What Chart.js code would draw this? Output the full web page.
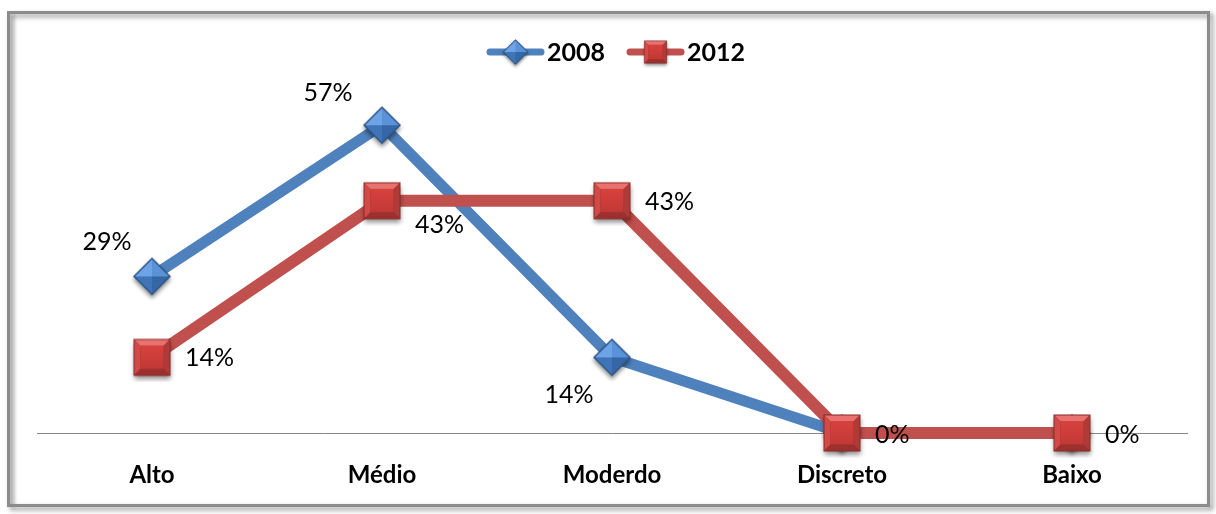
<!DOCTYPE html>
<html lang="pt">
<head>
<meta charset="utf-8">
<title>2008 x 2012</title>
<script src="https://cdn.jsdelivr.net/npm/chart.js"></script>
<style>
  html, body { margin: 0; padding: 0; background: #fff; }
  canvas { display: block; }
</style>
</head>
<body>
<canvas id="chart" width="1216" height="514"></canvas>
<script>
  // categories and values (percent)
  const categories = ['Alto', 'Médio', 'Moderdo', 'Discreto', 'Baixo'];
  const values2008 = [29, 57, 14, 0, 0];
  const values2012 = [14, 43, 43, 0, 0];
  const seriesNames = ['2008', '2012'];

  const BLUE = '#4f81bd';
  const RED = '#c0504d';

  // bevelled marker images
  function squareMarker() {
    const c = document.createElement('canvas');
    c.width = 50; c.height = 50;
    const g = c.getContext('2d');
    const s = 37, x0 = (50 - s) / 2, y0 = (50 - s) / 2, b = 6;
    g.save();
    g.shadowColor = 'rgba(0,0,0,0.45)';
    g.shadowBlur = 5;
    g.shadowOffsetY = 3;
    g.fillStyle = '#8a2b29';
    g.fillRect(x0, y0, s, s);
    g.restore();
    const x1 = x0 + s, y1 = y0 + s;
    const poly = (pts, col) => {
      g.beginPath();
      g.moveTo(pts[0], pts[1]);
      for (let i = 2; i < pts.length; i += 2) g.lineTo(pts[i], pts[i + 1]);
      g.closePath();
      g.fillStyle = col;
      g.fill();
    };
    const a = x0 + 1, t = y0 + 1, r = x1 - 1, bt = y1 - 1;
    poly([a, t, r, t, r - b, t + b, a + b, t + b], '#e9716e');
    poly([a, t, a + b, t + b, a + b, bt - b, a, bt], '#d24a47');
    poly([r, t, r, bt, r - b, bt - b, r - b, t + b], '#b03a37');
    poly([a, bt, a + b, bt - b, r - b, bt - b, r, bt], '#9b302e');
    const grd = g.createLinearGradient(0, t + b, 0, bt - b);
    grd.addColorStop(0, '#d8413e');
    grd.addColorStop(1, '#c23935');
    g.fillStyle = grd;
    g.fillRect(a + b, t + b, s - 2 - 2 * b, s - 2 - 2 * b);
    return c;
  }

  function diamondMarker() {
    const c = document.createElement('canvas');
    c.width = 50; c.height = 50;
    const g = c.getContext('2d');
    const cx = 25, cy = 25, h = 19;
    g.save();
    g.shadowColor = 'rgba(0,0,0,0.45)';
    g.shadowBlur = 4;
    g.shadowOffsetY = 3;
    g.beginPath();
    g.moveTo(cx, cy - h); g.lineTo(cx + h, cy); g.lineTo(cx, cy + h); g.lineTo(cx - h, cy);
    g.closePath();
    g.fillStyle = '#2c5587';
    g.fill();
    g.restore();
    const k = h - 2;
    const tri = (x2, y2, x3, y3, col) => {
      g.beginPath();
      g.moveTo(cx, cy); g.lineTo(x2, y2); g.lineTo(x3, y3);
      g.closePath();
      g.fillStyle = col;
      g.fill();
    };
    tri(cx - k, cy, cx, cy - k, '#6ea4e6');
    tri(cx, cy - k, cx + k, cy, '#5a92d8');
    tri(cx + k, cy, cx, cy + k, '#3567a6');
    tri(cx, cy + k, cx - k, cy, '#3f75b8');
    return c;
  }

  const markers = [diamondMarker(), squareMarker()];

  // frame around the whole chart
  const framePlugin = {
    id: 'frame',
    beforeDraw(chart) {
      const ctx = chart.ctx;
      ctx.save();
      ctx.fillStyle = '#fff';
      ctx.fillRect(0, 0, chart.width, chart.height);
      ctx.shadowColor = 'rgba(0,0,0,0.45)';
      ctx.shadowBlur = 5;
      ctx.shadowOffsetX = 3;
      ctx.shadowOffsetY = 3;
      ctx.strokeStyle = '#8c8c8c';
      ctx.lineWidth = 3;
      ctx.strokeRect(8.5, 12.5, 1200, 493);
      ctx.restore();
      // soft inner edge on the left
      const grd = ctx.createLinearGradient(10, 0, 17, 0);
      grd.addColorStop(0, 'rgba(0,0,0,0.12)');
      grd.addColorStop(1, 'rgba(0,0,0,0)');
      ctx.fillStyle = grd;
      ctx.fillRect(10, 14, 7, 490);
    }
  };

  // legend: line with marker followed by bold year
  const legendPlugin = {
    id: 'lineLegend',
    afterDraw(chart) {
      const ctx = chart.ctx;
      const xs = [487, 627];
      const y = 52;
      ctx.save();
      chart.data.datasets.forEach((ds, i) => {
        const x = xs[i];
        ctx.strokeStyle = ds.borderColor;
        ctx.lineWidth = 7;
        ctx.lineCap = 'round';
        ctx.beginPath();
        ctx.moveTo(x + 3, y);
        ctx.lineTo(x + 54, y);
        ctx.stroke();
        const m = markers[i];
        const sc = i === 0 ? 0.68 : 0.62;
        ctx.drawImage(m, x + 28.5 - m.width * sc / 2, y - m.height * sc / 2, m.width * sc, m.height * sc);
        ctx.fillStyle = '#000';
        ctx.font = 'bold 25px Lato';
        ctx.textBaseline = 'middle';
        ctx.fillText(ds.label, x + 60, y + 1);
      });
      ctx.restore();
    }
  };

  // percentage labels next to the points
  const labelOffsets = [
    [[-45, -34], [-54, -32], [-43, 38], null, null],
    [[33, 1], [33, 24], [33, 1], [33, 2], [33, 2]]
  ];
  const valueLabelPlugin = {
    id: 'valueLabels',
    afterDatasetsDraw(chart) {
      const ctx = chart.ctx;
      ctx.save();
      ctx.fillStyle = '#000';
      ctx.font = '25px Lato';
      ctx.textBaseline = 'middle';
      chart.data.datasets.forEach((ds, i) => {
        const meta = chart.getDatasetMeta(i);
        meta.data.forEach((pt, j) => {
          const off = labelOffsets[i][j];
          if (!off) return;
          ctx.textAlign = i === 0 ? 'center' : 'left';
          ctx.fillText(ds.data[j] + '%', pt.x + off[0], pt.y + off[1]);
        });
      });
      ctx.restore();
    }
  };

  const ctx = document.getElementById('chart').getContext('2d');
  new Chart(ctx, {
    type: 'line',
    data: {
      labels: categories,
      datasets: [
        {
          label: seriesNames[0],
          data: values2008,
          borderColor: BLUE,
          borderWidth: 11,
          pointStyle: markers[0],
          order: 1,
          clip: false,
        },
        {
          label: seriesNames[1],
          data: values2012,
          borderColor: RED,
          borderWidth: 12,
          pointStyle: markers[1],
          order: 0,
          clip: false,
        },
      ],
    },
    options: {
      responsive: false,
      animation: false,
      events: [],
      layout: { padding: { left: 37, right: 29, top: 109, bottom: 0 } },
      plugins: {
        legend: { display: false },
        tooltip: { enabled: false },
      },
      scales: {
        x: {
          offset: true,
          grid: { display: false, drawTicks: false },
          border: { display: true, color: '#868686', width: 1 },
          ticks: {
            color: '#000',
            font: { family: 'Lato', size: 24, weight: 'bold' },
            padding: 28,
            maxRotation: 0,
          },
          afterFit(scale) { scale.height = 81; },
        },
        y: {
          display: false,
          min: 0,
          max: 60,
        },
      },
    },
    plugins: [framePlugin, legendPlugin, valueLabelPlugin],
  });
</script>
</body>
</html>
